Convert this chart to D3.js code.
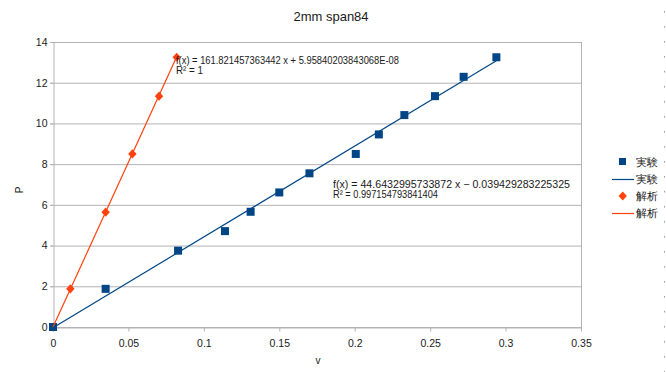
<!doctype html>
<html>
<head>
<meta charset="utf-8">
<script src="https://d3js.org/d3.v7.min.js"></script>
<style>
  body { margin: 0; background: #fff; }
  text { font-family: "Liberation Sans", Arial, sans-serif; fill: #1a1a1a; }
</style>
</head>
<body>
<script>
    // measured data (v, P)
    var jikkenV = [0, 0.0349, 0.0829, 0.114, 0.131, 0.150, 0.170, 0.2007, 0.216, 0.2329, 0.2532, 0.2722, 0.2939];
    var jikkenP = [0, 1.875, 3.75, 4.71, 5.66, 6.61, 7.55, 8.50, 9.46, 10.41, 11.34, 12.29, 13.25];
    // analysis data
    var kaisekiV = [0, 0.0115, 0.0349, 0.0526, 0.0703, 0.082];
    var kaisekiP = [0, 1.875, 5.64, 8.50, 11.34, 13.25];

    var xTicks = [0, 0.05, 0.1, 0.15, 0.2, 0.25, 0.3, 0.35];
    var yTicks = [0, 2, 4, 6, 8, 10, 12, 14];

    // trendline coefficients
    var fitJikken = { a: 44.6432995733872, b: -0.039429283225325 };
    var fitKaiseki = { a: 161.821457363442, b: 5.95840203843068E-08 };

    var seriesNames = ["実験", "解析"];
    var blue = "#004586", orange = "#ff420e";

    var svg = d3.select("body").append("svg")
        .attr("width", 666)
        .attr("height", 372);

    var x = d3.scaleLinear().domain([0, 0.35]).range([53, 581]);
    var y = d3.scaleLinear().domain([0, 14]).range([327, 42]);

    //horizontal grid lines
    svg.append("g").selectAll("line")
        .data(yTicks)
        .enter().append("line")
        .attr("x1", x(0) - 3).attr("x2", x(0.35))
        .attr("y1", function(d) { return y(d) + 0.5; })
        .attr("y2", function(d) { return y(d) + 0.5; })
        .attr("stroke", "#b3b3b3");

    // right border
    svg.append("line")
        .attr("x1", x(0.35) + 0.5).attr("x2", x(0.35) + 0.5)
        .attr("y1", y(14)).attr("y2", y(0) + 4)
        .attr("stroke", "#b3b3b3");

    //x axis
    var xAxis = svg.append("g")
        .attr("transform", "translate(0," + (y(0) + 0.5) + ")")
        .call(d3.axisBottom(x).tickValues(xTicks)
            .tickFormat(function(d) { return String(+d.toFixed(2)); })
            .tickSize(4).tickSizeOuter(0));
    xAxis.select(".domain").attr("stroke", "#b3b3b3");
    xAxis.selectAll(".tick line").attr("stroke", "#b3b3b3");
    xAxis.selectAll(".tick text")
        .attr("y", 12)
        .attr("font-family", "Liberation Sans")
        .attr("font-size", "10.5px")
        .attr("fill", "#1a1a1a");

    //y axis
    var yAxis = svg.append("g")
        .attr("transform", "translate(" + (x(0) + 0.5) + ",0)")
        .call(d3.axisLeft(y).tickValues(yTicks).tickSize(3).tickSizeOuter(0));
    yAxis.select(".domain").attr("stroke", "#b3b3b3");
    yAxis.selectAll(".tick line").attr("stroke", "#b3b3b3");
    yAxis.selectAll(".tick text")
        .attr("x", -6)
        .attr("font-family", "Liberation Sans")
        .attr("font-size", "10.5px")
        .attr("fill", "#1a1a1a");

    var diamond = "M0,-4.6L4.2,0L0,4.6L-4.2,0Z";

    // markers (analysis first so the measured square sits on top at the origin)
    svg.append("g").selectAll("path")
        .data(d3.range(kaisekiV.length))
        .enter().append("path")
        .attr("transform", function(i) { return "translate(" + x(kaisekiV[i]) + "," + y(kaisekiP[i]) + ")"; })
        .attr("d", diamond)
        .attr("fill", orange);

    svg.append("g").selectAll("rect")
        .data(d3.range(jikkenV.length))
        .enter().append("rect")
        .attr("x", function(i) { return x(jikkenV[i]) - 4; })
        .attr("y", function(i) { return y(jikkenP[i]) - 4; })
        .attr("width", 8).attr("height", 8)
        .attr("fill", blue);

    // trendlines
    var line = d3.line()
        .x(function(d) { return x(d); });

    svg.append("path")
        .datum([0, d3.max(jikkenV)])
        .attr("d", line.y(function(d) { return y(fitJikken.a * d + fitJikken.b); }))
        .attr("stroke", blue).attr("stroke-width", 1.2).attr("fill", "none");

    svg.append("path")
        .datum([0, d3.max(kaisekiV)])
        .attr("d", line.y(function(d) { return y(fitKaiseki.a * d + fitKaiseki.b); }))
        .attr("stroke", orange).attr("stroke-width", 1.2).attr("fill", "none");

    // equations
    function eqText(tx, ty, str, len) {
        svg.append("text")
            .attr("x", tx).attr("y", ty)
            .attr("font-size", "10.5px")
            .attr("textLength", len)
            .attr("lengthAdjust", "spacingAndGlyphs")
            .text(str);
    }
    eqText(176, 63.5, "f(x) = 161.821457363442 x + 5.95840203843068E-08", 223);
    eqText(176, 73.5, "R² = 1", 27);
    eqText(333, 187.5, "f(x) = 44.6432995733872 x − 0.039429283225325", 237);
    eqText(333, 197.5, "R² = 0.997154793841404", 105);

    // title and axis labels
    svg.append("text")
        .attr("x", 331).attr("y", 21)
        .attr("text-anchor", "middle")
        .attr("font-size", "13px")
        .text("2mm span84");

    svg.append("text")
        .attr("x", 318).attr("y", 364)
        .attr("text-anchor", "middle")
        .attr("font-size", "10px")
        .text("v");

    svg.append("text")
        .attr("transform", "translate(23,190) rotate(-90)")
        .attr("text-anchor", "middle")
        .attr("font-size", "10px")
        .text("P");

    // legend
    var lg = svg.append("g");
    lg.append("rect").attr("x", 619).attr("y", 158).attr("width", 7).attr("height", 7).attr("fill", blue);
    lg.append("line").attr("x1", 612).attr("x2", 634).attr("y1", 179.5).attr("y2", 179.5)
        .attr("stroke", blue).attr("stroke-width", 1.2);
    lg.append("path").attr("transform", "translate(622.7,196)").attr("d", diamond).attr("fill", orange);
    lg.append("line").attr("x1", 612).attr("x2", 634).attr("y1", 213.5).attr("y2", 213.5)
        .attr("stroke", orange).attr("stroke-width", 1.2);
    [0, 1, 2, 3].forEach(function(k) {
        lg.append("text")
            .attr("x", 636).attr("y", 166 + k * 17)
            .attr("font-family", "Noto Sans CJK JP")
            .attr("font-size", "10.5px")
            .text(seriesNames[Math.floor(k / 2)]);
    });

    // dashed marks at the right edge
    svg.append("line")
        .attr("x1", 664.5).attr("x2", 664.5)
        .attr("y1", 11).attr("y2", 372)
        .attr("stroke", "#9a9a9a")
        .attr("stroke-dasharray", "1.5,13.5");
</script>
</body>
</html>
